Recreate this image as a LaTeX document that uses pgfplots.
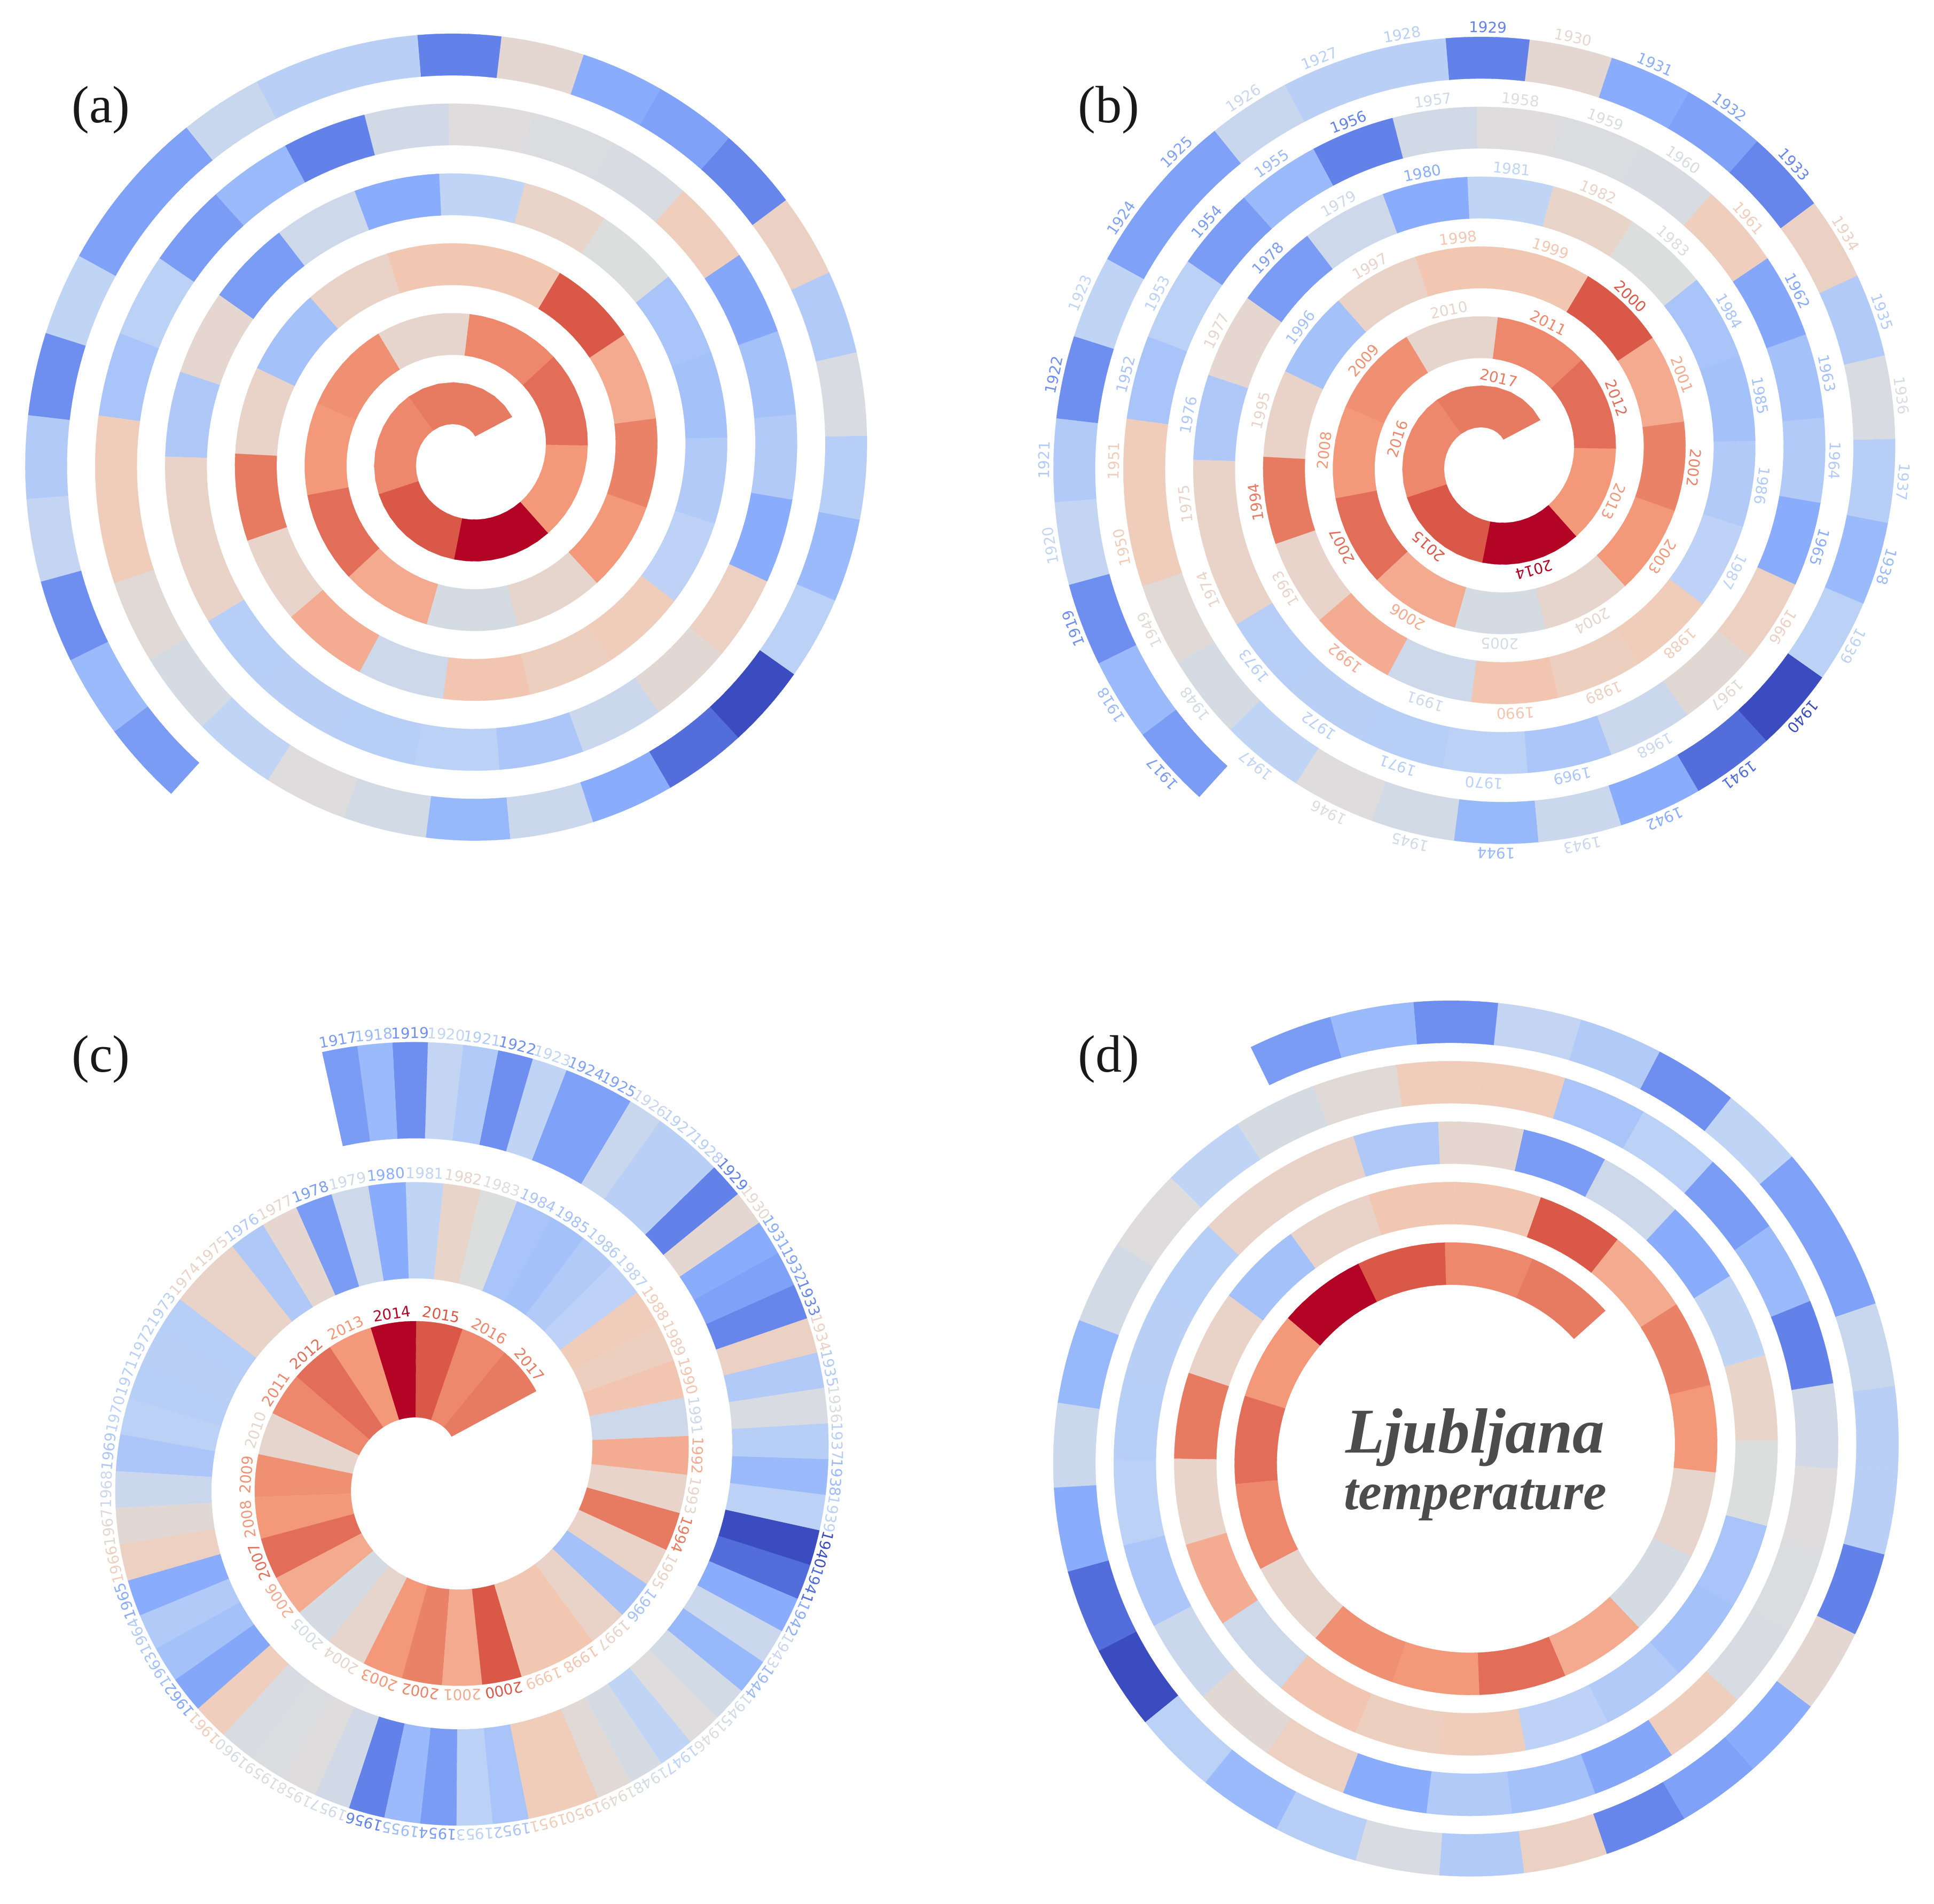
\documentclass[border=0pt]{standalone}
\usepackage{fontspec}
\usepackage{pgfplots}
\usepackage{pgfplotstable}
\pgfplotsset{compat=1.18}
\setmainfont{DejaVu Sans}
\newfontfamily\panelfont{Liberation Serif}
\def\lab{\fontsize{7.9}{9}\selectfont}

% matplotlib coolwarm
\pgfplotsset{
  colormap={coolwarm}{rgb255=(59,76,192) rgb255=(98,130,234) rgb255=(141,176,254)
    rgb255=(192,212,245) rgb255=(221,221,221) rgb255=(242,203,183)
    rgb255=(244,154,123) rgb255=(217,88,71) rgb255=(180,4,38)},
  panel/.style={hide axis, clip=false, anchor=origin, no marks,
    x=0.01cm, y=0.01cm, xmin=-900, xmax=900, ymin=-900, ymax=900},
}

% year, position on the colormap (per mille)
\pgfplotstableread{
year v
1917 195
1918 285
1919 160
1920 388
1921 340
1922 160
1923 375
1924 210
1925 210
1926 410
1927 357
1928 357
1929 125
1930 540
1931 240
1932 210
1933 137
1934 585
1935 340
1936 478
1937 353
1938 285
1939 365
1940 0
1941 77
1942 240
1943 422
1944 277
1945 453
1946 505
1947 375
1948 467
1949 525
1950 615
1951 615
1952 320
1953 365
1954 195
1955 285
1956 125
1957 448
1958 505
1959 492
1960 478
1961 607
1962 227
1963 310
1964 342
1965 240
1966 590
1967 533
1968 422
1969 325
1970 365
1971 353
1972 357
1973 353
1974 570
1975 570
1976 333
1977 545
1978 195
1979 431
1980 240
1981 375
1982 566
1983 498
1984 320
1985 310
1986 342
1987 368
1988 612
1989 598
1990 640
1991 433
1992 705
1993 563
1994 810
1995 570
1996 310
1997 570
1998 635
1999 635
2000 875
2001 710
2002 795
2003 755
2004 555
2005 467
2006 710
2007 835
2008 755
2009 770
2010 555
2011 785
2012 835
2013 755
2014 1000
2015 875
2016 785
2017 810
}\temps

\newcount\stepc
% #1 start angle, #2 start radius, #3 pitch, #4 band width, #5 arc per year,
% #6 label offset (0: none), #7 extra arc term (arc = #5 + #7/r)
\newcommand\spiral[7]{%
  \pgfmathsetmacro\bb{#3/6.28319}%
  \pgfmathsetmacro\hw{#4/2}%
  \def\acur{#1}\def\rcur{#2}%
  \pgfplotsforeachungrouped \row in {100,99,...,0}{%
    \pgfplotstablegetelem{\row}{v}\of\temps \edef\val{\pgfplotsretval}%
    \pgfplotstablegetelem{\row}{year}\of\temps \edef\yr{\pgfplotsretval}%
    \pgfmathsetmacro\dphi{(#5+#7/\rcur)/veclen(\rcur,\bb)}%
    \pgfmathsetmacro\rmid{\rcur+\bb*\dphi/2}%
    \pgfmathsetmacro\dphi{(#5+#7/\rmid)/veclen(\rmid,\bb)}%
    \pgfmathsetmacro\rmid{\rcur+\bb*\dphi/2}%
    \pgfmathsetmacro\dphi{(#5+#7/\rmid)/veclen(\rmid,\bb)}%
    \pgfmathsetmacro\rmid{\rcur+\bb*\dphi/2}%
    \pgfmathsetmacro\dphi{(#5+#7/\rmid)/veclen(\rmid,\bb)}%
    \pgfmathsetmacro\dang{\dphi*57.2958}%
    \def\cO{}\def\cI{}%
    \stepc=0
    \loop
      \pgfmathsetmacro\al{\acur+\dang*\stepc/8}%
      \pgfmathsetmacro\ra{\rcur+\bb*\dphi*\stepc/8}%
      \pgfmathsetmacro\nu{\al-atan2(\bb,\ra)}%
      \pgfmathsetmacro\cx{\ra*cos(\al)}%
      \pgfmathsetmacro\cy{\ra*sin(\al)}%
      \pgfmathsetmacro\ox{\cx+\hw*cos(\nu)}%
      \pgfmathsetmacro\oy{\cy+\hw*sin(\nu)}%
      \pgfmathsetmacro\ix{\cx-\hw*cos(\nu)}%
      \pgfmathsetmacro\iy{\cy-\hw*sin(\nu)}%
      \edef\cO{\cO (\ox,\oy)}%
      \edef\cI{(\ix,\iy) \cI}%
      \ifnum\stepc=0 \edef\first{(\ox,\oy)}\fi
      \advance\stepc by 1
    \ifnum\stepc<9 \repeat
    \edef\tmp{\noexpand\addplot[color of colormap={\val\space of coolwarm}, fill=., line width=0.1pt]
      coordinates {\cO\cI\first};}\tmp
    \ifdim#6pt>0pt
      \pgfmathsetmacro\al{\acur+\dang/2}%
      \pgfmathsetmacro\nu{\al-atan2(\bb,\rmid)}%
      \pgfmathsetmacro\lx{\rmid*cos(\al)+(\hw+#6)*cos(\nu)}%
      \pgfmathsetmacro\ly{\rmid*sin(\al)+(\hw+#6)*sin(\nu)}%
      \pgfmathsetmacro\rot{\nu-90}%
      \edef\tmp{\noexpand\node[/pgfplots/color of colormap={\val\space of coolwarm}, text=.,
        rotate=\rot, font=\noexpand\lab, inner sep=0pt] at (axis cs:\lx,\ly) {\yr};}\tmp
    \fi
    \pgfmathsetmacro\acur{\acur+\dang}%
    \pgfmathsetmacro\rcur{\rcur+\bb*\dphi}%
  }%
}

\begin{document}
\begin{tikzpicture}
\useasboundingbox (0,0) rectangle (36.21,35.63);

% (a) 
\begin{axis}[panel, at={(8.68cm,27.12cm)}]
  \spiral{43}{77}{131}{78}{149}{0}{754}
\end{axis}

% (b) same spiral with year labels
\begin{axis}[panel, at={(27.93cm,27.06cm)}]
  \spiral{43}{77}{131}{78}{149}{18}{754}
\end{axis}

% (c)
\begin{axis}[panel, at={(8.18cm,8.135cm)}]
  \spiral{44}{148.4}{263}{180}{58.95}{17}{0}
\end{axis}

% (d)
\begin{axis}[panel, at={(27.35cm,8.42cm)}]
  \spiral{45}{341.4}{113.3}{79}{151.5}{0}{0}
  \node[text=black!70, font=\panelfont\bfseries\itshape\fontsize{34}{38}\selectfont] at (axis cs:27,30) {Ljubljana};
  \node[text=black!70, font=\panelfont\bfseries\itshape\fontsize{28}{32}\selectfont] at (axis cs:27,-87) {temperature};
\end{axis}

\node[text=black!90, font=\panelfont\fontsize{28}{30}\selectfont] at (1.89,33.57) {(a)};
\node[text=black!90, font=\panelfont\fontsize{28}{30}\selectfont] at (20.76,33.57) {(b)};
\node[text=black!90, font=\panelfont\fontsize{28}{30}\selectfont] at (1.89,15.80) {(c)};
\node[text=black!90, font=\panelfont\fontsize{28}{30}\selectfont] at (20.76,15.80) {(d)};
\end{tikzpicture}
\end{document}
